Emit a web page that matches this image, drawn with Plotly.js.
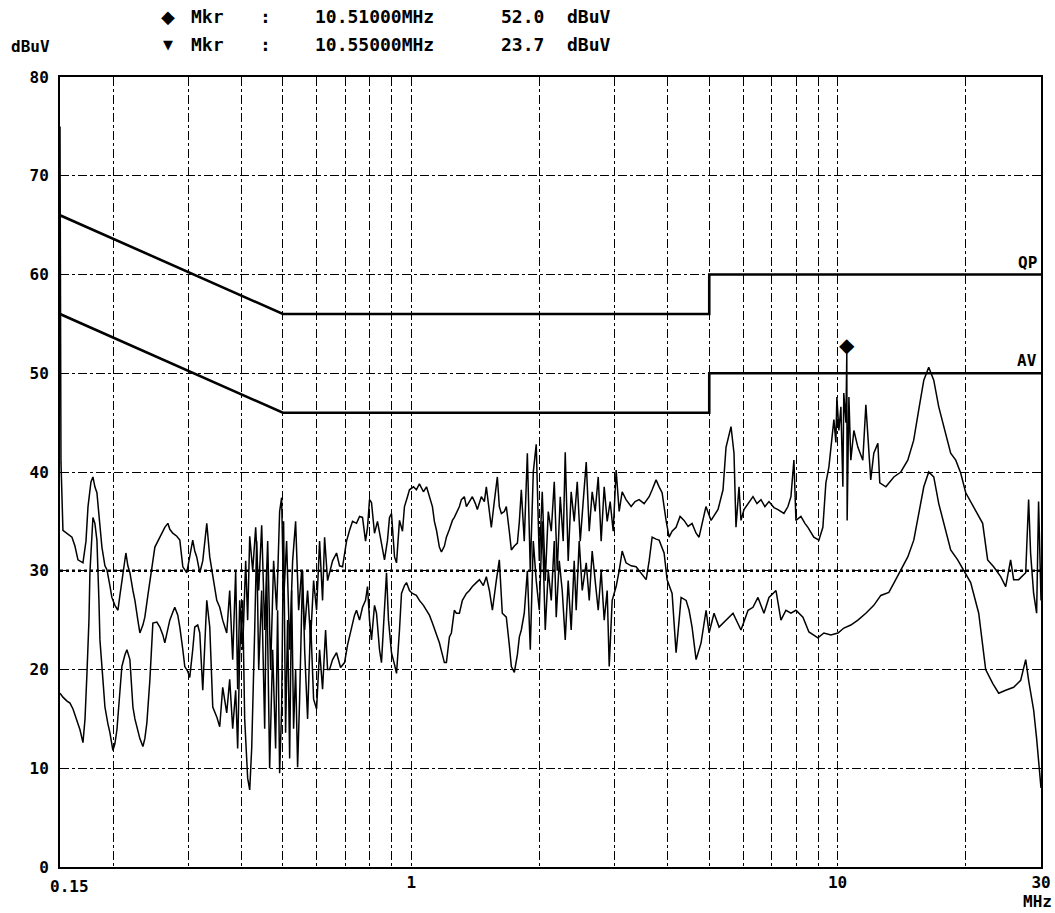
<!DOCTYPE html>
<html>
<head>
<meta charset="utf-8">
<script src="https://cdn.plot.ly/plotly-3.0.1.min.js"></script>
<style>
  html, body { margin: 0; padding: 0; background: #fff; }
  #chart { width: 1055px; height: 913px; }
</style>
</head>
<body>
<div id="chart"></div>
<script>
// ---------- Data ----------
// Upper trace (peak detector) — frequency in MHz, level in dBuV
const peakFreq = [
  0.150, 0.1508, 0.1524, 0.1558, 0.1600, 0.1626, 0.1653, 0.1698, 0.1726, 0.1745,
  0.1773, 0.1792, 0.1811, 0.1831, 0.1861, 0.1881, 0.1912, 0.1933, 0.1964, 0.1985,
  0.2018, 0.2051, 0.2073, 0.2095, 0.2118, 0.2141, 0.2164, 0.2188, 0.2224, 0.2248,
  0.2284, 0.2309, 0.2347, 0.2372, 0.2411, 0.2437, 0.2477, 0.2504, 0.2545, 0.2572,
  0.2614, 0.2642, 0.2686, 0.2714, 0.2758, 0.2819, 0.2865, 0.2912, 0.2975, 0.3023,
  0.3072, 0.3106, 0.3139, 0.3191, 0.3243, 0.3314, 0.3368, 0.3423, 0.3498, 0.3554,
  0.3612, 0.3691, 0.3751, 0.3812, 0.3874, 0.3916, 0.3959, 0.4023, 0.4089, 0.4133,
  0.4179, 0.4247, 0.4316, 0.4387, 0.4458, 0.4531, 0.4605, 0.4679, 0.4755, 0.4833,
  0.4912, 0.4965, 0.5019, 0.5101, 0.5185, 0.5269, 0.5355, 0.5443, 0.5531, 0.5622,
  0.5713, 0.5806, 0.5901, 0.5997, 0.6095, 0.6194, 0.6262, 0.6364, 0.6433, 0.6538,
  0.6680, 0.6789, 0.6900, 0.7050, 0.7166, 0.7282, 0.7441, 0.7563, 0.7686, 0.7812,
  0.7896, 0.7982, 0.8068, 0.8200, 0.8333, 0.8424, 0.8561, 0.8654, 0.8796, 0.8891,
  0.8987, 0.9136, 0.9235, 0.9384, 0.9537, 0.9640, 0.9798, 0.9904, 1.012, 1.028,
  1.045, 1.068, 1.086, 1.103, 1.121, 1.133, 1.146, 1.164, 1.177, 1.196,
  1.209, 1.229, 1.249, 1.262, 1.283, 1.297, 1.311, 1.332, 1.347, 1.369,
  1.391, 1.414, 1.429, 1.460, 1.484, 1.500, 1.525, 1.541, 1.566, 1.592,
  1.609, 1.627, 1.653, 1.671, 1.698, 1.717, 1.745, 1.774, 1.793, 1.812,
  1.841, 1.872, 1.902, 1.933, 1.964, 1.997, 2.029, 2.062, 2.096, 2.130,
  2.165, 2.200, 2.236, 2.272, 2.297, 2.334, 2.372, 2.411, 2.451, 2.491,
  2.531, 2.573, 2.615, 2.657, 2.700, 2.745, 2.789, 2.835, 2.881, 2.928,
  2.976, 3.024, 3.074, 3.124, 3.190, 3.279, 3.350, 3.424, 3.517, 3.614,
  3.673, 3.752, 3.814, 3.876, 3.960, 4.025, 4.091, 4.180, 4.271, 4.364,
  4.460, 4.557, 4.657, 4.732, 4.912, 5.049, 5.243, 5.386, 5.474, 5.624,
  5.715, 5.777, 5.872, 5.935, 6.032, 6.197, 6.332, 6.470, 6.611, 6.753,
  6.903, 7.092, 7.246, 7.484, 7.648, 7.773, 7.899, 7.985, 8.204, 8.382,
  8.519, 8.795, 9.040, 9.236, 9.387, 9.541, 9.644, 9.802, 9.908, 9.962,
  10.07, 10.18, 10.29, 10.34, 10.46, 10.51, 10.53, 10.63, 10.74, 10.92,
  11.16, 11.46, 11.65, 11.77, 11.96, 12.16, 12.43, 12.56, 12.98, 13.55,
  14.07, 14.61, 15.08, 15.50, 15.93, 16.36, 16.81, 17.27, 17.93, 18.42,
  18.93, 19.44, 19.98, 20.86, 21.89, 22.49, 23.23, 24.13, 24.79, 25.46,
  25.88, 26.59, 27.62, 28.06, 28.36, 28.83, 29.30, 29.61, 30.0
];
const peakLevel = [
  75, 41, 34.1, 33.8, 33.4, 32.5, 31.1, 30.8, 33, 36.5,
  39, 39.5, 38.5, 37.9, 34.5, 32.4, 30.5, 30.1, 28.5, 27.3,
  26.5, 26.0, 27.5, 29.1, 30.5, 31.8, 30.5, 29.8, 28, 27,
  25, 23.7, 24.5, 25.3, 27.5, 29.1, 31, 32.4, 33, 33.4,
  34, 34.4, 34.8, 34.2, 33.8, 33.5, 33.1, 30.4, 29.8, 31.5,
  33.1, 32, 31.4, 29.8, 31, 34.8, 31.4, 29.5, 27, 26.3,
  25, 23.7, 28, 21, 30, 18, 27, 22, 31, 25,
  33.5, 30, 34.4, 28, 34.6, 24, 33, 20, 31, 26,
  36, 37.4, 27, 33, 22, 31, 35, 26, 30, 24,
  28, 23, 29, 26, 33, 27, 33.4, 29, 29.8, 31,
  31.8, 30.5, 30.4, 33, 34.1, 35, 34.8, 35.5, 35.4, 33,
  34.4, 37.2, 36.9, 33.8, 35, 33.8, 32, 31.1, 33.1, 35.4,
  35.8, 31.4, 30.8, 35.1, 34, 36.5, 37.5, 38.2, 38.5, 38.2,
  38.8, 38, 38.5, 37.5, 36.5, 35, 34.1, 32.4, 31.9, 32.5,
  33.4, 34.2, 35.1, 35.4, 36, 36.5, 37.2, 37.5, 36.5, 37,
  37.5, 36.8, 36.2, 37.5, 37, 38.5, 36, 34.4, 37, 39.5,
  36.5, 35.8, 36, 36.5, 34, 32.1, 32.5, 32.8, 35, 38.2,
  33, 41.9, 30, 40, 42.8, 31, 38, 29, 36, 34,
  39, 30, 37.5, 33, 42, 31, 38, 35, 39, 33,
  37, 41, 34, 38, 36, 39.5, 33, 38.5, 35, 37,
  34, 40.2, 36, 38, 37.2, 36.5, 37, 37.2, 36.8, 37.5,
  38.2, 39.2, 38.5, 37.9, 35.1, 33.4, 34, 34.4, 35.5, 35.1,
  34.5, 34.8, 33.8, 33.4, 36.5, 35.1, 36.2, 38.2, 42.5, 44.6,
  41.9, 34.4, 38.5, 35.1, 36.2, 37, 37.5, 36.8, 37.2, 36.5,
  37, 36.4, 36.2, 35.8, 36.5, 37.5, 41.2, 35.1, 35.5, 34.8,
  34.4, 33.4, 33.1, 34.4, 38.9, 40.5, 42.5, 45.3, 43, 47.6,
  44.2, 46.6, 38.5, 48, 45, 52.0, 35.1, 47.6, 41.2, 44.2,
  42.5, 41.2, 46.8, 43.5, 39.2, 41.9, 42.9, 38.9, 38.5, 39.5,
  40, 41.2, 43.2, 46.3, 49.3, 50.6, 49.3, 46.6, 43.9, 41.9,
  41.2, 39.9, 37.9, 36.5, 34.8, 31.1, 30.4, 29.4, 28.4, 31.1,
  29.1, 29.1, 29.8, 37.2, 31.8, 27.7, 25.7, 37, 27
];

// Lower trace (average detector)
const avgFreq = [
  0.150, 0.1524, 0.1558, 0.1583, 0.1609, 0.1635, 0.1671, 0.1698, 0.1717, 0.1735,
  0.1754, 0.1763, 0.1782, 0.1792, 0.1811, 0.1831, 0.1851, 0.1861, 0.1891, 0.1912,
  0.1943, 0.1964, 0.1996, 0.2018, 0.2040, 0.2073, 0.2095, 0.2130, 0.2153, 0.2188,
  0.2224, 0.2248, 0.2272, 0.2309, 0.2347, 0.2372, 0.2398, 0.2437, 0.2477, 0.2531,
  0.2572, 0.2614, 0.2642, 0.2686, 0.2714, 0.2758, 0.2788, 0.2834, 0.2865, 0.2912,
  0.2943, 0.2991, 0.3023, 0.3072, 0.3106, 0.3156, 0.3191, 0.3243, 0.3278, 0.3314,
  0.3368, 0.3423, 0.3498, 0.3554, 0.3612, 0.3691, 0.3751, 0.3812, 0.3874, 0.3916,
  0.3959, 0.4023, 0.4067, 0.4133, 0.4179, 0.4224, 0.4293, 0.4339, 0.4387, 0.4458,
  0.4531, 0.4580, 0.4654, 0.4730, 0.4807, 0.4859, 0.4912, 0.4965, 0.5019, 0.5073,
  0.5128, 0.5185, 0.5241, 0.5297, 0.5355, 0.5413, 0.5472, 0.5561, 0.5622, 0.5713,
  0.5806, 0.5901, 0.5997, 0.6095, 0.6194, 0.6296, 0.6364, 0.6433, 0.6538, 0.6680,
  0.6826, 0.6975, 0.7089, 0.7243, 0.7361, 0.7441, 0.7563, 0.7686, 0.7812, 0.7896,
  0.7982, 0.8068, 0.8200, 0.8289, 0.8424, 0.8515, 0.8654, 0.8749, 0.8843, 0.8987,
  0.9136, 0.9235, 0.9384, 0.9486, 0.9640, 0.9745, 0.9904, 1.006, 1.028, 1.045,
  1.068, 1.086, 1.103, 1.121, 1.146, 1.164, 1.183, 1.196, 1.209, 1.229,
  1.242, 1.262, 1.276, 1.297, 1.318, 1.347, 1.369, 1.391, 1.421, 1.445,
  1.476, 1.500, 1.525, 1.550, 1.583, 1.609, 1.635, 1.671, 1.698, 1.717,
  1.745, 1.774, 1.793, 1.812, 1.841, 1.872, 1.902, 1.933, 1.964, 1.997,
  2.029, 2.062, 2.096, 2.130, 2.165, 2.188, 2.224, 2.260, 2.297, 2.334,
  2.372, 2.411, 2.437, 2.477, 2.518, 2.573, 2.615, 2.657, 2.700, 2.745,
  2.789, 2.835, 2.881, 2.913, 2.960, 3.024, 3.074, 3.124, 3.190, 3.279,
  3.368, 3.461, 3.556, 3.614, 3.673, 3.752, 3.814, 3.918, 3.982, 4.091,
  4.180, 4.249, 4.295, 4.412, 4.484, 4.557, 4.657, 4.784, 4.915, 4.995,
  5.131, 5.272, 5.474, 5.685, 5.935, 6.166, 6.332, 6.505, 6.718, 6.903,
  7.17, 7.364, 7.565, 7.773, 7.986, 8.293, 8.566, 8.991, 9.287, 9.644,
  10.02, 10.345, 10.74, 11.16, 11.65, 12.16, 12.63, 13.19, 13.69, 14.07,
  14.61, 15.09, 15.50, 15.93, 16.36, 16.81, 17.27, 17.93, 18.42, 19.13,
  19.76, 20.52, 21.43, 22.25, 23.11, 23.87, 24.79, 25.88, 26.88, 27.62,
  28.06, 28.83, 29.30, 30.0
];
const avgLevel = [
  17.6, 17.2, 16.8, 16.6, 16, 15, 13.9, 12.6, 15, 19.6,
  25, 29.8, 34, 35.4, 34.8, 33.1, 27, 23, 19, 16.2,
  14.5, 13.6, 11.8, 12.5, 13.9, 17.5, 20.3, 21.5, 22, 21,
  16.2, 15, 14.2, 13, 12.2, 13, 14.6, 18.9, 24.7, 24.8,
  24.3, 23.5, 22.7, 24, 25, 25.8, 26.3, 25.5, 24.3, 22,
  20.3, 19.8, 19.2, 22, 24.3, 24.5, 23.7, 17.9, 22, 27,
  24.3, 16.2, 15.2, 14.2, 18.2, 15.6, 19, 14, 17.9, 12,
  21.7, 27, 15, 9, 7.8, 12, 24, 33, 20, 28,
  14, 30, 10, 22, 12, 26, 9.5, 16, 35, 13.6,
  25, 11, 28, 14, 20, 10.1, 17, 30, 22, 15,
  25, 17, 16, 22, 18, 24, 20, 20, 21, 21.7,
  20.2, 20.7, 22.5, 24.3, 25.5, 26, 25, 26.3, 27, 28.4,
  25, 23, 26.5, 25.7, 22, 20.7, 26, 29.8, 25, 21.7,
  20.5, 19.6, 24, 27.7, 28.5, 28.8, 28, 27.7, 27.5, 27,
  26.5, 26, 25.5, 24.7, 23.5, 22.7, 21.5, 20.7, 20.7, 23.3,
  23.7, 26, 25.7, 25.7, 27, 27.7, 28, 28.4, 28.8, 29.1,
  28.5, 29.4, 28, 26, 29, 31.1, 25.7, 25.3, 22.5, 20.3,
  19.7, 21.5, 23.3, 24, 25.7, 30, 22, 33, 29, 26,
  35, 24, 30, 27, 33, 25.3, 31, 28, 23, 29,
  24, 31, 26, 33, 28, 30.8, 27, 32, 29, 26,
  30, 25, 28, 20.3, 27, 28.4, 30, 32, 30.8, 30.5,
  30.4, 29.8, 29.1, 31, 33.4, 33.2, 33.1, 31.8, 29.1, 27.7,
  21.7, 25, 27.3, 27, 26, 24.3, 21, 22.7, 26, 23.7,
  25.7, 24.3, 25, 25.7, 24, 26, 26.3, 27.3, 25.7, 27.3,
  28, 25, 26, 25.7, 26, 25.3, 23.8, 23.2, 23.7, 23.5,
  23.7, 24.2, 24.5, 25, 25.7, 26.5, 27.5, 27.8, 29.1, 30.1,
  31.4, 33.1, 35.8, 38.5, 40, 39.5, 36.8, 34.1, 32.1, 31.1,
  30.1, 28.8, 25.7, 20, 18.6, 17.6, 17.9, 18.2, 18.9, 21,
  18.9, 15.9, 13, 8
];

// Limit lines (EN 55022 class B style)
const limitFreq = [0.15, 0.5, 5, 5, 30];
const qpLimit   = [66, 56, 56, 60, 60];
const avLimit   = [56, 46, 46, 50, 50];
const limitNames = ['QP', 'AV'];

// Markers
const markerSymbols = ['\u25C6', '\u25BC'];
const markerFreq  = [10.51, 10.55];
const markerLevel = [52.0, 23.7];

// Axis ticks / grid
const xGridFreq = [0.15, 0.2, 0.3, 0.4, 0.5, 0.6, 0.7, 0.8, 0.9,
                   1, 2, 3, 4, 5, 6, 7, 8, 9, 10, 20, 30];
const xLabeledFreq = [0.15, 1, 10, 30];
const yTicks = [0, 10, 20, 30, 40, 50, 60, 70, 80];
const emphasisLevels = [30];
const xUnit = 'MHz';
const yUnit = 'dBuV';

// ---------- Plot ----------
const FONT = 'DejaVu Sans Mono, Liberation Mono, monospace';
const black = '#000000';
const boldFont = (size) => ({family: FONT, size: size, color: black, weight: 'bold'});

const traces = [
  { x: limitFreq, y: qpLimit, mode: 'lines', line: {color: black, width: 2.6}, hoverinfo: 'skip' },
  { x: limitFreq, y: avLimit, mode: 'lines', line: {color: black, width: 2.6}, hoverinfo: 'skip' },
  { x: peakFreq, y: peakLevel, mode: 'lines', line: {color: black, width: 1.5}, hoverinfo: 'skip' },
  { x: avgFreq, y: avgLevel, mode: 'lines', line: {color: black, width: 1.5}, hoverinfo: 'skip' }
];

const annotations = [];
// header marker lines
const headerY = [1.076, 1.041];
markerFreq.forEach((f, i) => {
  const y = headerY[i];
  const base = {xref: 'paper', yref: 'paper', y: y, yanchor: 'middle', showarrow: false, font: boldFont(18)};
  annotations.push(Object.assign({}, base, {x: 0.110, xanchor: 'center', text: markerSymbols[i],
                font: {family: 'DejaVu Sans', size: i === 0 ? 18 : 13, color: black}}));
  annotations.push(Object.assign({}, base, {x: 0.132, xanchor: 'left', text: 'Mkr'}));
  annotations.push(Object.assign({}, base, {x: 0.209, xanchor: 'center', text: ':'}));
  annotations.push(Object.assign({}, base, {x: 0.258, xanchor: 'left', text: f.toFixed(5) + 'MHz'}));
  annotations.push(Object.assign({}, base, {x: 0.447, xanchor: 'left', text: markerLevel[i].toFixed(1)}));
  annotations.push(Object.assign({}, base, {x: 0.515, xanchor: 'left', text: yUnit}));
});
// unit labels
annotations.push({xref: 'paper', yref: 'paper', x: -0.008, y: 1.038, xanchor: 'right', yanchor: 'middle',
  showarrow: false, text: yUnit, font: boldFont(16)});
annotations.push({xref: 'paper', yref: 'paper', x: 0.996, y: -0.044, xanchor: 'center', yanchor: 'middle',
  showarrow: false, text: xUnit, font: boldFont(16)});
// first x label (start of the axis), set a little right of the corner like the reference
annotations.push({xref: 'x', yref: 'paper', x: Math.log10(xLabeledFreq[0]), y: 0, xanchor: 'left', yanchor: 'top',
  xshift: -12, yshift: -8, showarrow: false, text: String(xLabeledFreq[0]), font: boldFont(16)});
// limit names
[qpLimit, avLimit].forEach((lim, i) => {
  annotations.push({xref: 'paper', yref: 'y', x: 0.998, y: lim[lim.length - 1], xanchor: 'right', yanchor: 'bottom',
    yshift: 1, showarrow: false, text: limitNames[i], font: boldFont(16)});
});
// marker diamond on the trace
annotations.push({xref: 'x', yref: 'y', x: Math.log10(markerFreq[0]), y: markerLevel[0], xanchor: 'center',
  yanchor: 'middle', yshift: 9, showarrow: false, text: markerSymbols[0],
  font: {family: 'DejaVu Sans', size: 20, color: black}});

const shapes = emphasisLevels.map(v => ({
  type: 'line', xref: 'paper', x0: 0, x1: 1, yref: 'y', y0: v, y1: v, layer: 'below',
  line: {color: black, width: 2.5, dash: 'dot'}
}));

const layout = {
  width: 1055, height: 913,
  margin: {l: 60, r: 14, t: 77, b: 46, pad: 0},
  paper_bgcolor: '#ffffff', plot_bgcolor: '#ffffff',
  showlegend: false,
  font: {family: FONT, size: 16, color: black},
  xaxis: {
    type: 'log',
    range: [Math.log10(xGridFreq[0]), Math.log10(xGridFreq[xGridFreq.length - 1])],
    tickmode: 'array',
    tickvals: xGridFreq,
    ticktext: xGridFreq.map((v, i) => (i > 0 && xLabeledFreq.includes(v)) ? String(v) : ''),
    showgrid: true, gridcolor: black, gridwidth: 1, griddash: 'dashdot',
    showline: true, mirror: true, linecolor: black, linewidth: 2,
    ticks: '', zeroline: false,
    tickfont: boldFont(16)
  },
  yaxis: {
    range: [yTicks[0], yTicks[yTicks.length - 1]],
    tickmode: 'array', tickvals: yTicks, ticktext: yTicks.map(String),
    showgrid: true, gridcolor: black, gridwidth: 1, griddash: 'dashdot',
    showline: true, mirror: true, linecolor: black, linewidth: 2,
    ticks: '', zeroline: false, ticklabelstandoff: 6,
    tickfont: boldFont(16)
  },
  annotations: annotations,
  shapes: shapes
};

Plotly.newPlot('chart', traces, layout, {staticPlot: true, displayModeBar: false});
</script>
</body>
</html>
